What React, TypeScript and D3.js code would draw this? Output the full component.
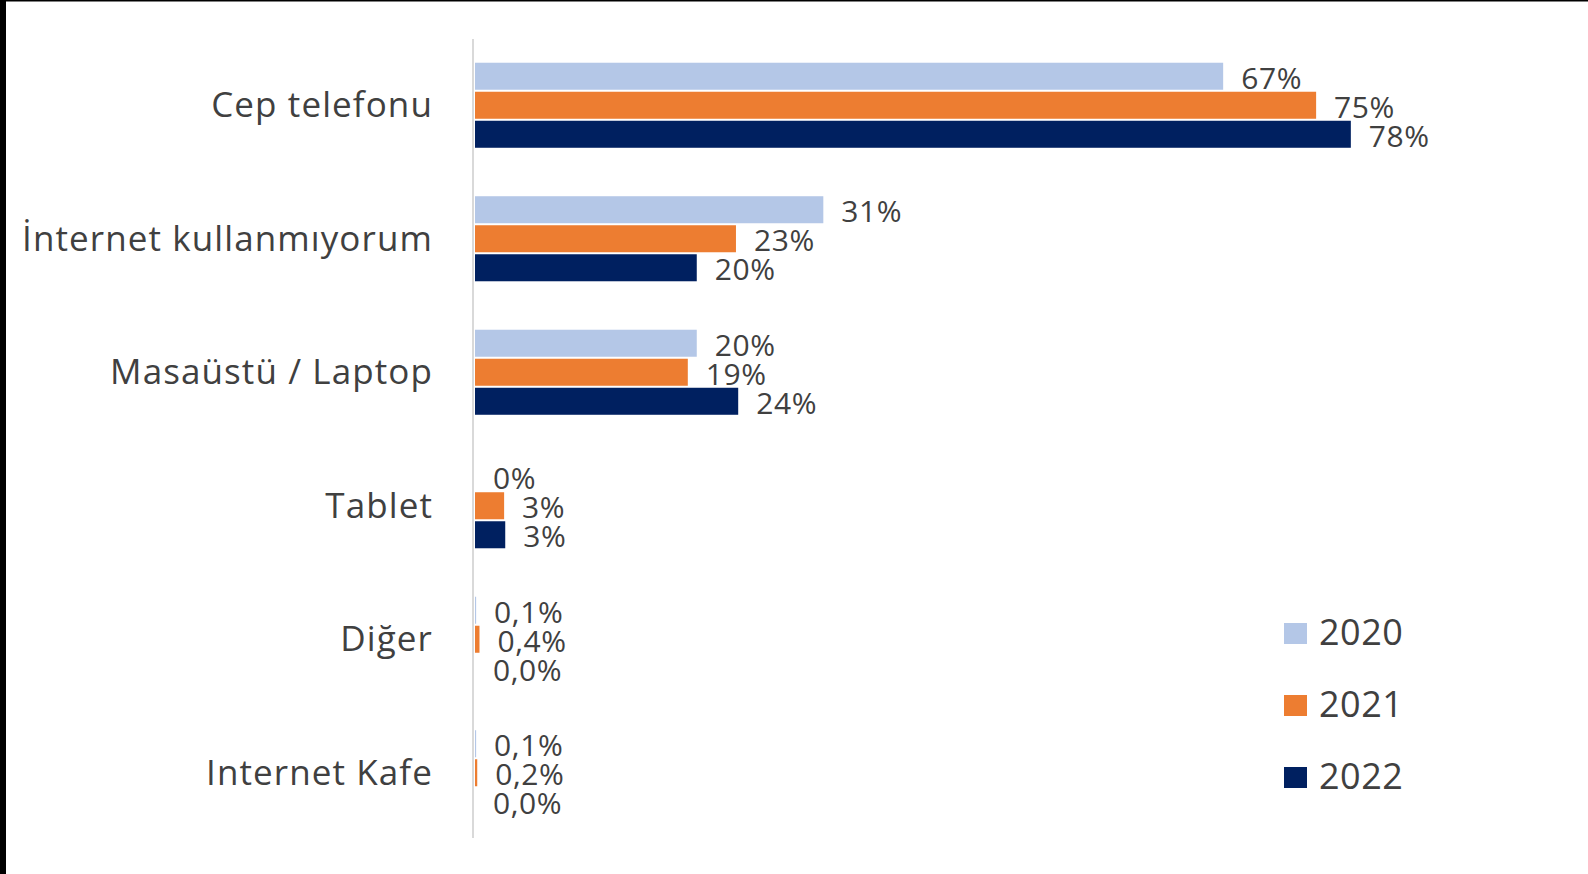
import React, { useEffect, useRef } from 'react';
import * as d3 from 'd3';

const categories = ['Cep telefonu', 'İnternet kullanmıyorum', 'Masaüstü / Laptop', 'Tablet', 'Diğer', 'Internet Kafe'];
const years = ['2020', '2021', '2022'];
const values2020 = [66.8, 31.1, 19.8, 0.0, 0.1, 0.1];
const values2021 = [75.1, 23.3, 19.0, 2.6, 0.4, 0.2];
const values2022 = [78.2, 19.8, 23.5, 2.7, 0.0, 0.0];
// decimals shown in the data labels, per category
const labelDecimals = [0, 0, 0, 0, 1, 1];
const colors = ['#b4c7e7', '#ed7d31', '#002060'];

export default function App() {
  const ref = useRef<SVGSVGElement>(null);

  useEffect(() => {
    document.body.style.margin = '0';
    const svg = d3.select(ref.current);
    svg.selectAll('*').remove();

    const W = 1588;
    const H = 874;
    const font = '"Open Sans", "Noto Sans", sans-serif';
    const textColor = '#404040';

    svg.append('rect').attr('width', W).attr('height', H).attr('fill', '#fff');
    // frame of the original screenshot
    svg.append('rect').attr('x', 0).attr('y', 0).attr('width', 6).attr('height', H).attr('fill', '#000');
    svg.append('rect').attr('x', 0).attr('y', 0).attr('width', W).attr('height', 1.5).attr('fill', '#000');

    const x0 = 475;
    const x = d3.scaleLinear().domain([0, 80]).range([x0, x0 + 80 * 11.2]);

    const p = 0.348;
    const y = d3.scaleBand<string>()
      .domain(categories)
      .range([39, 840])
      .paddingInner(p)
      .paddingOuter(p / 2);

    const ySub = d3.scaleBand<string>().domain(years).range([0, y.bandwidth()]);

    const series = [values2020, values2021, values2022];
    const fmt = (v: number, d: number) => d3.format(`.${d}f`)(v).replace('.', ',') + '%';

    // category axis
    svg.append('line')
      .attr('x1', 473).attr('x2', 473)
      .attr('y1', 39).attr('y2', 838)
      .attr('stroke', '#d9d9d9')
      .attr('stroke-width', 2);

    const groups = svg.append('g')
      .selectAll('g')
      .data(categories)
      .join('g')
      .attr('transform', (c) => `translate(0,${y(c)})`);

    groups.each(function (c, i) {
      const g = d3.select(this);
      years.forEach((yr, j) => {
        const v = series[j][i];
        const yy = ySub(yr)!;
        g.append('rect')
          .attr('x', x(0))
          .attr('y', yy + 0.5)
          .attr('width', x(v) - x(0))
          .attr('height', ySub.bandwidth() - 2)
          .attr('fill', colors[j]);
        g.append('text')
          .attr('x', x(v) + 18)
          .attr('y', yy + ySub.bandwidth() / 2 + 4)
          .attr('dominant-baseline', 'middle')
          .attr('font-family', font)
          .attr('font-size', 30)
          .attr('letter-spacing', 0.6)
          .attr('fill', textColor)
          .text(fmt(v, labelDecimals[i]));
      });
    });

    svg.append('g')
      .selectAll('text')
      .data(categories)
      .join('text')
      .attr('x', 433)
      .attr('y', (c) => y(c)! + y.bandwidth() / 2 + 2)
      .attr('text-anchor', 'end')
      .attr('dominant-baseline', 'middle')
      .attr('font-family', font)
      .attr('font-size', 35)
      .attr('letter-spacing', 1.1)
      .attr('fill', textColor)
      .text((c) => c);

    // legend
    const legend = svg.append('g')
      .selectAll('g')
      .data(years)
      .join('g')
      .attr('transform', (_, i) => `translate(1284,${634 + i * 72})`);
    legend.append('rect')
      .attr('x', 0).attr('y', -11)
      .attr('width', 23).attr('height', 21)
      .attr('fill', (_, i) => colors[i]);
    legend.append('text')
      .attr('x', 35)
      .attr('y', 1)
      .attr('dominant-baseline', 'middle')
      .attr('font-family', font)
      .attr('font-size', 36)
      .attr('letter-spacing', 0.5)
      .attr('fill', textColor)
      .text((d) => d);
  }, []);

  return <svg ref={ref} width={1588} height={874} style={{ display: 'block' }} />;
}
